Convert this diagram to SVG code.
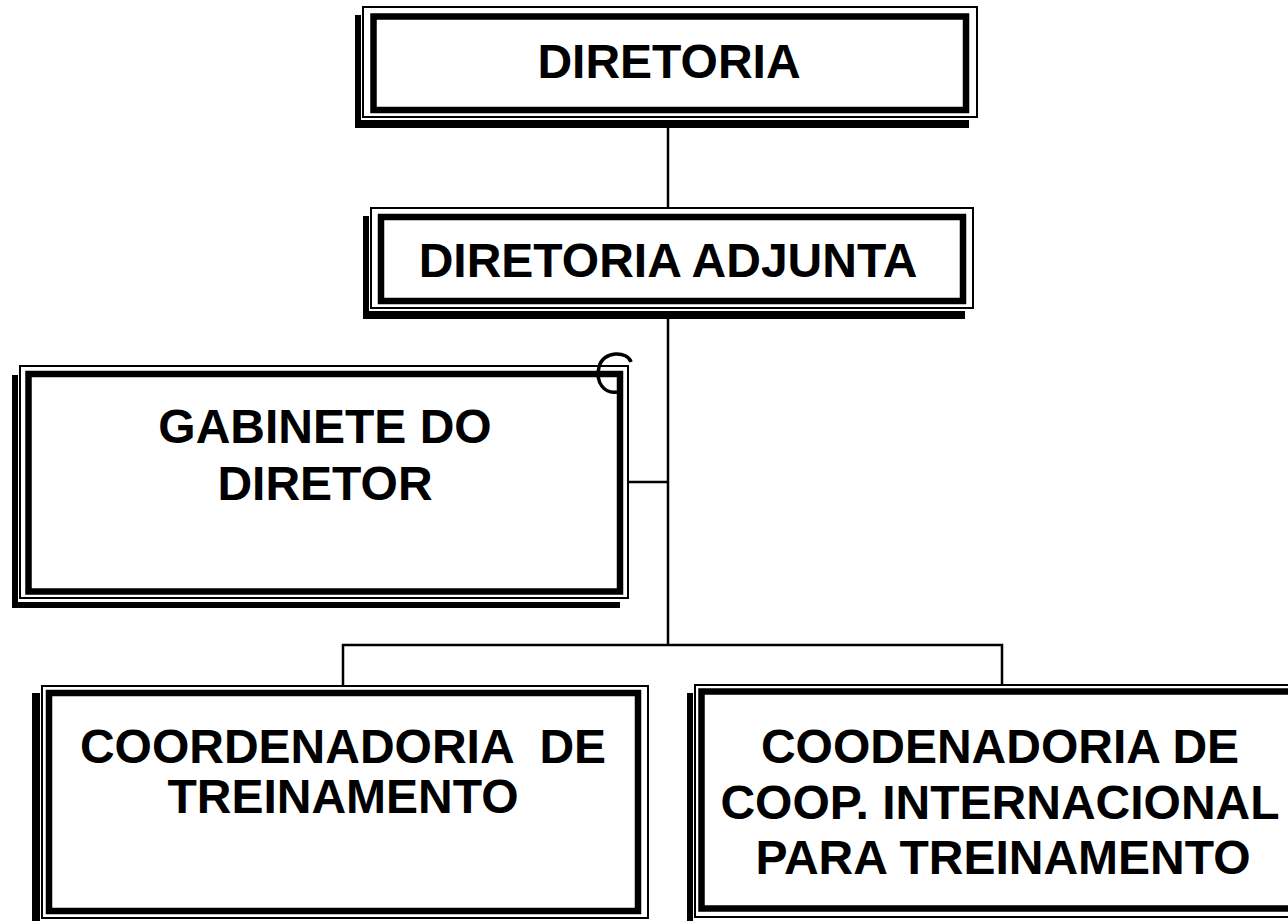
<svg xmlns="http://www.w3.org/2000/svg" width="1288" height="921" viewBox="0 0 1288 921">
<style>
.outer{fill:#fff;stroke:#000;stroke-width:2}
.inner{fill:none;stroke:#000;stroke-width:6.5}
.shadow{fill:#000}
.conn{fill:none;stroke:#000;stroke-width:2.5}
.lbl{font-family:"Liberation Sans",Arial,sans-serif;font-weight:bold;font-size:48px;fill:#000;text-anchor:middle}
</style>
<rect width="1288" height="921" fill="#fff"/>
<g id="connectors">
<line class="conn" x1="668" y1="128" x2="668" y2="208"/>
<line class="conn" x1="668" y1="318" x2="668" y2="646"/>
<line class="conn" x1="628" y1="482" x2="668" y2="482"/>
<polyline class="conn" points="343,686 343,645 1002,645 1002,685"/>
</g>
<g id="diretoria">
<path class="shadow" d="M355,15 H361 V120 H969 V128 H355 Z"/>
<rect class="outer" x="363" y="7" width="614" height="110"/>
<rect class="inner" x="373.5" y="16.5" width="592.5" height="93.5"/>
<text class="lbl" x="669" y="78">DIRETORIA</text>
</g>
<g id="diretoria-adjunta">
<path class="shadow" d="M363,216 H369 V311 H965 V319 H363 Z"/>
<rect class="outer" x="371" y="208" width="602" height="100"/>
<rect class="inner" x="381" y="217" width="582" height="84"/>
<text class="lbl" x="668" y="277">DIRETORIA ADJUNTA</text>
</g>
<g id="gabinete">
<path class="shadow" d="M12,375 H18 V602 H620 V608 H12 Z"/>
<rect class="outer" x="20" y="366" width="608" height="232"/>
<rect class="inner" x="28.5" y="374" width="591.5" height="217.5"/>
<path d="M631,362 C628,351 603,350 599,367 C595,383 605,394 617,392" fill="none" stroke="#000" stroke-width="3.5"/>
<text class="lbl" x="325" y="443">GABINETE DO</text>
<text class="lbl" x="325" y="500">DIRETOR</text>
</g>
<g id="coord-treinamento">
<path class="shadow" d="M32,693 H40 V921 H32 Z"/>
<rect class="outer" x="42" y="686" width="606" height="232"/>
<rect class="inner" x="49" y="693" width="589" height="218"/>
<text class="lbl" x="343" y="763" xml:space="preserve">COORDENADORIA  DE</text>
<text class="lbl" x="343" y="813">TREINAMENTO</text>
</g>
<g id="coord-coop">
<path class="shadow" d="M687,693 H693 V921 H687 Z"/>
<rect class="outer" x="695" y="685" width="601" height="232"/>
<rect class="inner" x="701.5" y="691.5" width="600" height="217"/>
<text class="lbl" x="1000" y="763">COODENADORIA DE</text>
<text class="lbl" x="1000" y="819">COOP. INTERNACIONAL</text>
<text class="lbl" x="1003" y="874">PARA TREINAMENTO</text>
</g>
</svg>
